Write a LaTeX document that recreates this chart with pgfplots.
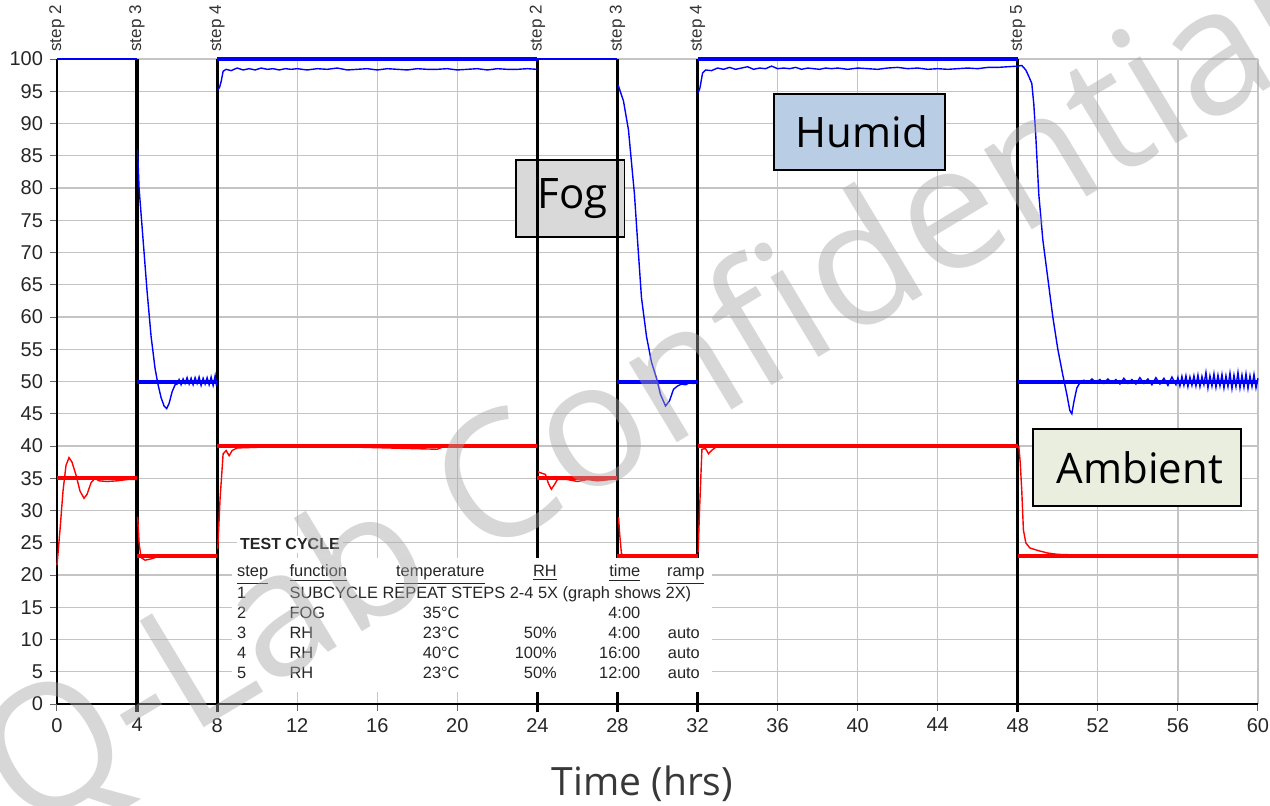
\documentclass[border=0pt]{standalone}
\usepackage{fontspec}
\setmainfont{Liberation Sans}
\newfontfamily\ofont{Open Sans}
\usepackage{pgfplots}
\pgfplotsset{compat=1.18}
\definecolor{gridgray}{RGB}{196,196,196}
\definecolor{humidfill}{RGB}{185,205,229}
\definecolor{fogfill}{RGB}{217,217,217}
\definecolor{ambfill}{RGB}{234,238,222}
\definecolor{pblue}{RGB}{0,0,255}
\definecolor{pred}{RGB}{255,0,0}
\begin{document}
\begin{tikzpicture}
\begin{axis}[
  scale only axis, width=600.5pt, height=322.5pt,
  xmin=0, xmax=60, ymin=0, ymax=100,
  xtick={0,4,...,60}, ytick={0,5,...,100},
  grid=major, major grid style={draw=gridgray, line width=0.6pt},
  axis lines*=left, axis line style={-, black, line width=0.7pt},
  tick align=outside, major tick length=3.5pt,
  tick style={black!60, line width=0.5pt},
  ticklabel style={font=\fontsize{10}{12}\selectfont, text=black!85},
  /pgf/number format/assume math mode=true,
  clip=false,
  unbounded coords=jump,
]
% annotation boxes
\filldraw[fill=fogfill, draw=black, line width=0.6pt] (axis cs:22.93,72.40) rectangle (axis cs:28.37,84.34);
\node[font=\ofont\fontsize{21}{24}\selectfont] at (axis cs:25.75,78.4) {Fog};
\filldraw[fill=humidfill, draw=black, line width=0.6pt] (axis cs:35.82,82.79) rectangle (axis cs:44.36,94.57);
\node[font=\ofont\fontsize{21}{24}\selectfont] at (axis cs:40.2,88.7) {Humid};
\filldraw[fill=ambfill, draw=black, line width=0.6pt] (axis cs:48.76,30.70) rectangle (axis cs:59.15,42.64);
\node[font=\ofont\fontsize{21}{24}\selectfont] at (axis cs:54.1,36.7) {Ambient};
% step lines
\foreach \s in {4,8,24,28,32,48} {
  \edef\tmp{\noexpand\draw[black, line width=1.6pt] (axis cs:\s,-1.3) -- (axis cs:\s,100);}
  \tmp
}
% table background
\fill[white] (axis cs:8.74,1.86) rectangle (axis cs:32.72,22.64);
\begin{scope}[every node/.style={font=\fontsize{8.2}{9}\selectfont, text=black!85, inner sep=0pt}]
\node[anchor=base west, fill=white, inner sep=1.5pt, font=\fontsize{8}{9}\selectfont\bfseries] at (axis cs:8.98,23.9) {TEST CYCLE};
\node[anchor=base west] at (axis cs:8.98,19.7) {\underline{step}};
\node[anchor=base west] at (axis cs:11.6,19.7) {\underline{function}};
\node[anchor=base east] at (axis cs:21.38,19.7) {\underline{temperature}};
\node[anchor=base east] at (axis cs:24.99,19.7) {\underline{RH}};
\node[anchor=base east] at (axis cs:29.16,19.7) {\underline{time}};
\node[anchor=base west] at (axis cs:30.46,19.7) {\underline{ramp}};
\node[anchor=base west] at (axis cs:8.98,16.4) {1};
\node[anchor=base west] at (axis cs:11.6,16.4) {SUBCYCLE REPEAT STEPS 2-4 5X (graph shows 2X)};
\node[anchor=base west] at (axis cs:8.98,13.3) {2};
\node[anchor=base west] at (axis cs:11.6,13.3) {FOG};
\node[anchor=base east] at (axis cs:20.13,13.3) {35°C};
\node[anchor=base east] at (axis cs:29.16,13.3) {4:00};
\node[anchor=base west] at (axis cs:8.98,10.1) {3};
\node[anchor=base west] at (axis cs:11.6,10.1) {RH};
\node[anchor=base east] at (axis cs:20.13,10.1) {23°C};
\node[anchor=base east] at (axis cs:24.99,10.1) {50\%};
\node[anchor=base east] at (axis cs:29.16,10.1) {4:00};
\node[anchor=base west] at (axis cs:30.5,10.1) {auto};
\node[anchor=base west] at (axis cs:8.98,7.1) {4};
\node[anchor=base west] at (axis cs:11.6,7.1) {RH};
\node[anchor=base east] at (axis cs:20.13,7.1) {40°C};
\node[anchor=base east] at (axis cs:24.99,7.1) {100\%};
\node[anchor=base east] at (axis cs:29.16,7.1) {16:00};
\node[anchor=base west] at (axis cs:30.5,7.1) {auto};
\node[anchor=base west] at (axis cs:8.98,4.0) {5};
\node[anchor=base west] at (axis cs:11.6,4.0) {RH};
\node[anchor=base east] at (axis cs:20.13,4.0) {23°C};
\node[anchor=base east] at (axis cs:24.99,4.0) {50\%};
\node[anchor=base east] at (axis cs:29.16,4.0) {12:00};
\node[anchor=base west] at (axis cs:30.5,4.0) {auto};
\end{scope}
% step labels
\begin{scope}[every node/.style={rotate=90, anchor=west, inner sep=0pt, font=\fontsize{8.5}{9}\selectfont, text=black!80}]
\node at ([yshift=3.5pt]axis cs:0,100) {step 2};
\node at ([yshift=3.5pt]axis cs:4,100) {step 3};
\node at ([yshift=3.5pt]axis cs:8,100) {step 4};
\node at ([yshift=3.5pt]axis cs:24,100) {step 2};
\node at ([yshift=3.5pt]axis cs:28,100) {step 3};
\node at ([yshift=3.5pt]axis cs:32,100) {step 4};
\node at ([yshift=3.5pt]axis cs:48,100) {step 5};
\end{scope}
% measured RH (blue, thin)
\addplot[pblue, line width=0.7pt] coordinates {
(4.02,86) (4.05,84) (4.1,80) (4.3,72) (4.5,64) (4.7,57) (4.9,52) (5.05,49.5) (5.2,47.5) (5.35,46.2) (5.48,45.8) (5.6,46.6) (5.75,48.4) (5.9,49.5)
(6.0,49.6) (6.1,50.3) (6.2,49.5) (6.3,50.4) (6.4,49.7) (6.5,50.6) (6.6,49.6) (6.7,50.5) (6.8,49.5) (6.9,50.6) (7.0,49.7) (7.1,50.7) (7.2,49.4) (7.3,50.5) (7.4,49.6) (7.5,50.6) (7.6,49.5) (7.7,50.7) (7.8,49.4) (7.9,50.9) (7.97,49.3)
(8.0,nan)
(8.03,95.2) (8.12,95.6) (8.2,96.5) (8.3,98.1) (8.45,98.4) (8.7,98.2) (9.0,98.6) (9.3,98.3) (9.6,98.5) (9.9,98.3) (10.2,98.6) (10.5,98.4) (10.8,98.5) (11.1,98.3) (11.4,98.5) (11.7,98.4) (12,98.5) (12.5,98.3) (13,98.5) (13.5,98.4) (14,98.6) (14.5,98.3) (15,98.4) (15.5,98.5) (16,98.3) (16.5,98.5) (17,98.4) (17.5,98.3) (18,98.5) (18.5,98.4) (19,98.4) (19.5,98.5) (20,98.3) (20.5,98.4) (21,98.5) (21.5,98.3) (22,98.5) (22.5,98.4) (23,98.4) (23.5,98.5) (23.97,98.4)
(24.0,nan)
(28.03,96) (28.3,93.5) (28.55,89) (28.7,84) (28.85,79) (29.0,72) (29.2,63) (29.45,57) (29.7,53) (29.95,50.5) (30.15,48) (30.4,46.2) (30.6,47) (30.8,48.8) (31.0,49.3) (31.2,49.6) (31.4,49.5) (31.6,49.8) (31.8,49.7) (31.97,49.9)
(32.0,nan)
(32.03,94.8) (32.12,95.5) (32.25,97.8) (32.4,98.3) (32.7,98.2) (33,98.6) (33.3,98.4) (33.6,98.7) (33.9,98.4) (34.2,98.6) (34.5,98.8) (34.8,98.4) (35.1,98.6) (35.4,98.5) (35.7,98.9) (36,98.5) (36.3,98.6) (36.6,98.5) (36.9,98.7) (37.2,98.4) (37.5,98.6) (37.8,98.5) (38.1,98.4) (38.4,98.6) (38.7,98.5) (39,98.6) (39.5,98.4) (40,98.6) (40.5,98.5) (41,98.4) (41.5,98.6) (42,98.7) (42.5,98.5) (43,98.6) (43.5,98.4) (44,98.5) (44.5,98.4) (45,98.5) (45.5,98.6) (46,98.5) (46.5,98.7) (47,98.7) (47.5,98.8) (48.0,98.9)
(48.2,99) (48.4,98.3) (48.55,97.3) (48.7,96.2) (48.8,93) (48.9,88) (49.05,79) (49.25,72) (49.5,66) (49.75,60) (50.0,55) (50.25,51) (50.45,48) (50.6,45.5) (50.7,45) (50.8,46.8) (50.95,49) (51.1,49.8) (51.3,50.2) (51.5,49.8) (51.7,50.4) (51.9,49.9) (52.1,50.3) (52.3,49.7) (52.5,50.4) (52.7,49.8) (52.9,50.3) (53.1,49.6) (53.3,50.5) (53.5,49.7) (53.7,50.3) (53.9,49.6) (54.1,50.6) (54.3,49.7) (54.5,50.4) (54.7,49.5) (54.9,50.6) (55.1,49.6) (55.3,50.5) (55.5,49.4) (55.7,50.7) (55.9,49.5) (56.0,50.6) (56.1,49.3) (56.2,50.8) (56.3,49.4) (56.4,50.9) (56.5,49.2) (56.6,50.7) (56.7,49.4) (56.8,50.9) (56.9,49.3) (57.0,51.0) (57.1,49.2) (57.2,50.8) (57.3,49.5) (57.4,51.4) (57.5,49.0) (57.6,50.9) (57.7,49.3) (57.8,51.2) (57.9,49.1) (58.0,51.0) (58.1,49.3) (58.2,51.1) (58.3,49.0) (58.4,50.9) (58.5,49.2) (58.6,51.3) (58.7,48.9) (58.8,51.0) (58.9,49.2) (59.0,51.4) (59.1,49.0) (59.2,51.0) (59.3,49.1) (59.4,51.2) (59.5,48.9) (59.6,50.9) (59.7,49.2) (59.8,51.1) (59.9,49.0) (60,50.5)
};
% measured temperature (red, thin)
\addplot[pred, line width=0.7pt] coordinates {
(0,21.5) (0.15,27) (0.3,33) (0.45,37) (0.6,38.2) (0.75,37.5) (0.95,35.5) (1.15,33) (1.35,31.9) (1.5,32.5) (1.7,34.3) (1.9,35) (2.1,34.6) (2.5,34.5) (3,34.6) (3.5,34.8) (3.97,34.8)
(4.0,nan)
(4.03,29) (4.1,25) (4.2,22.7) (4.4,22.3) (4.7,22.5) (5,22.8) (6,22.9) (7,22.8) (7.97,22.8)
(8.0,nan)
(8.03,24) (8.15,32) (8.3,38.8) (8.45,39.3) (8.6,38.5) (8.75,39.3) (9,39.7) (10,39.8) (14,39.9) (19,39.5) (19.3,39.9) (23.97,39.9)
(24.0,nan)
(24.03,36) (24.2,35.8) (24.4,35.6) (24.55,34.2) (24.7,33.3) (24.85,34) (25,34.8) (25.5,34.8) (26,34.5) (26.5,34.8) (27,34.6) (27.97,34.9)
(28.0,nan)
(28.05,29) (28.12,26) (28.2,23.3) (28.4,22.8) (29,22.8) (30,22.9) (31.97,22.8)
(32.0,nan)
(32.03,23.5) (32.1,30) (32.22,39.5) (32.4,39.6) (32.55,38.8) (32.7,39.3) (32.9,39.8) (40,39.9) (47.97,39.8)
(48.0,nan)
(48.05,40) (48.12,37.5) (48.2,33) (48.28,27) (48.4,25) (48.6,24.2) (49,23.8) (49.5,23.4) (50,23.2) (51,23.1) (60,23)
};
% set points RH (blue, thick)
\addplot[pblue, line width=1.0pt] coordinates {(0,100) (4,100) (4,nan) (24,100) (28,100)};
\addplot[pblue, line width=2pt] coordinates {(4,50) (8,50) (8,nan) (8,100) (24,100) (24,nan) (28,50) (32,50) (32,nan) (32,100) (48,100) (48,nan) (48,50) (60,50)};
% set points temperature (red, thick)
\addplot[pred, line width=2pt] coordinates {(0,35) (4,35) (4,nan) (4,23) (8,23) (8,nan) (8,40) (24,40) (24,nan) (24,35) (28,35) (28,nan) (28,23) (32,23) (32,nan) (32,40) (48,40) (48,nan) (48,23) (60,23)};
% x label
\node[anchor=base, font=\ofont\fontsize{19.5}{22}\selectfont, text=black!78] at ([yshift=-45.5pt]axis cs:29.25,0) {Time (hrs)};
\end{axis}
% watermark
\node[rotate=31, anchor=base west, inner sep=0pt, font=\ofont\fontsize{87}{87}\selectfont, text=black!35, opacity=0.45] at (-16pt,-65.5pt) {Q-Lab Confidential};
\pgfresetboundingbox
\path[use as bounding box] (-28.5pt,-50.5pt) rectangle (606.5pt,352pt);
\end{tikzpicture}
\end{document}
